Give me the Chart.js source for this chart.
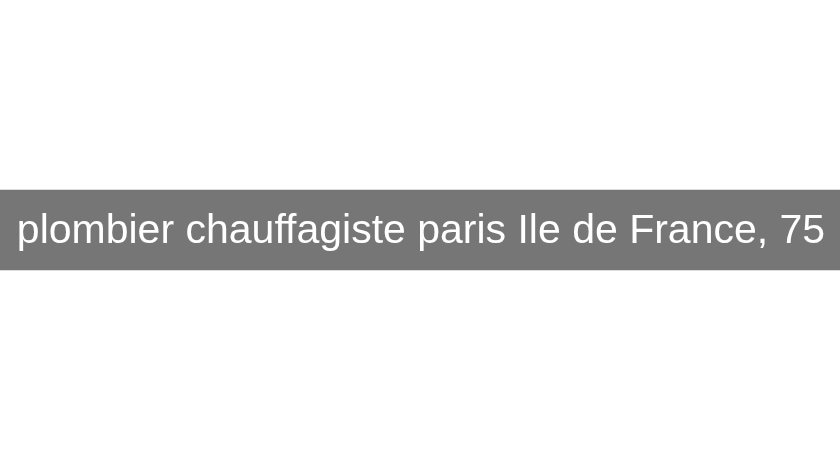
<!DOCTYPE html>
<html>
<head>
<meta charset="utf-8">
<script src="https://cdn.jsdelivr.net/npm/chart.js@4"></script>
<style>
    html, body { margin: 0; padding: 0; background: #ffffff; }
    #zone { width: 840px; height: 460px; position: relative; }
</style>
</head>
<body>
<div id="zone"><canvas id="grafico-bandeau"></canvas></div>
<script>
// Donnees du bandeau
const etiquettes = ['plombier chauffagiste paris Ile de France, 75'];
const bandes = [[190, 270]];
const echelleHaute = 460;

// Plugin pour ecrire le titre au milieu de la barre
const texteBandeau = {
    id: 'texteBandeau',
    afterDatasetsDraw(chart) {
        const ctx = chart.ctx;
        const meta = chart.getDatasetMeta(0);
        meta.data.forEach((barre, i) => {
            ctx.save();
            ctx.fillStyle = '#ffffff';
            ctx.font = '41px "Liberation Sans", Arial, sans-serif';
            ctx.textAlign = 'center';
            ctx.textBaseline = 'alphabetic';
            const milieu = (barre.y + barre.base) / 2;
            ctx.fillText(chart.data.labels[i], barre.x + 1, milieu + 13);
            ctx.restore();
        });
    }
};

new Chart(document.getElementById('grafico-bandeau'), {
    type: 'bar',
    data: {
        labels: etiquettes,
        datasets: [{
            data: bandes,
            backgroundColor: '#767676',
            borderWidth: 0,
            barPercentage: 1,
            categoryPercentage: 1
        }]
    },
    options: {
        responsive: true,
        maintainAspectRatio: false,
        animation: false,
        layout: { padding: 0 },
        plugins: {
            legend: { display: false },
            tooltip: { enabled: false }
        },
        scales: {
            x: { display: false, offset: true },
            y: { display: false, reverse: true, min: 0, max: echelleHaute }
        }
    },
    plugins: [texteBandeau]
});
</script>
</body>
</html>
